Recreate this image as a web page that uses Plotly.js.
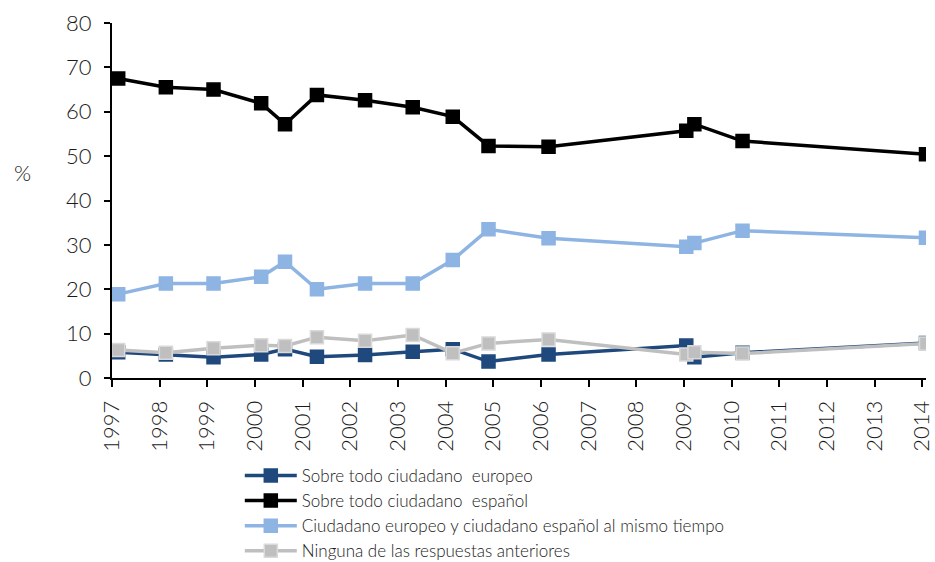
<!DOCTYPE html>
<html>
<head>
<meta charset="utf-8">
<script src="https://cdn.plot.ly/plotly-3.0.1.min.js"></script>
<style>html,body{margin:0;padding:0;background:#fff;}#chart{width:935px;height:562px;}</style>
</head>
<body>
<div id="chart"></div>
<script>
// Survey dates expressed as decimal years
const surveyDates = [1997.13, 1998.13, 1999.13, 2000.13, 2000.63, 2001.3, 2002.31, 2003.31, 2004.15, 2004.9, 2006.16, 2009.05, 2009.22, 2010.23, 2014.08];
const yearTicks = [1997, 1998, 1999, 2000, 2001, 2002, 2003, 2004, 2005, 2006, 2007, 2008, 2009, 2010, 2011, 2012, 2013, 2014];

const seriesNames = [
  "Sobre todo ciudadano  europeo",
  "Sobre todo ciudadano  español",
  "Ciudadano europeo y ciudadano español al mismo tiempo",
  "Ninguna de las respuestas anteriores"
];
const europeo  = [5.8, 5.3, 4.7, 5.3, 6.5, 4.8, 5.2, 5.9, 6.5, 3.7, 5.3, 7.3, 4.7, 5.7, 7.9];
const espanol  = [67.5, 65.5, 65.0, 61.9, 57.2, 63.8, 62.6, 61.0, 58.9, 52.3, 52.1, 55.7, 57.2, 53.4, 50.4];
const ambos    = [18.9, 21.3, 21.3, 22.8, 26.2, 20.0, 21.3, 21.3, 26.6, 33.5, 31.5, 29.6, 30.4, 33.2, 31.6];
const ninguna  = [6.3, 5.7, 6.7, 7.4, 7.2, 9.2, 8.4, 9.7, 5.6, 7.8, 8.7, 5.3, 5.8, 5.5, 7.8];

const lineColors = ["#1f497d", "#000000", "#8db4e2", "#bfbfbf"];
const borderColors = ["#1f497d", "#000000", "#8db4e2", "#d9d9d9"];
const allSeries = [europeo, espanol, ambos, ninguna];

const traces = allSeries.map((vals, i) => ({
  x: surveyDates,
  y: vals,
  name: seriesNames[i],
  type: "scatter",
  mode: "lines+markers",
  line: {color: lineColors[i], width: 3.5},
  marker: {symbol: "square", size: 13, color: lineColors[i], line: {color: borderColors[i], width: 1.5}}
}));

const layout = {
  width: 935, height: 562,
  margin: {l: 112, r: 9, t: 23, b: 184, autoexpand: false},
  paper_bgcolor: "#fff", plot_bgcolor: "#fff",
  font: {family: "Lato, 'Open Sans', sans-serif", color: "#1a1a1a", weight: 300},
  showlegend: true,
  legend: {
    x: 0.157, y: -0.225, xanchor: "left", yanchor: "top",
    font: {size: 17, color: "#1a1a1a", weight: 300},
    itemwidth: 52, tracegroupgap: 0,
    bgcolor: "rgba(0,0,0,0)"
  },
  xaxis: {
    range: [1997, 2014.08], automargin: false,
    tickmode: "array", tickvals: yearTicks, ticktext: yearTicks.map(String),
    tickangle: -90,
    ticks: "outside", ticklen: 7, tickwidth: 2, tickcolor: "#000",
    ticklabelstandoff: 5,
    showline: true, linecolor: "#000", linewidth: 2,
    showgrid: false, zeroline: false,
    tickfont: {size: 22, color: "#1a1a1a", weight: 300}
  },
  yaxis: {
    range: [0, 80], dtick: 10, automargin: false,
    ticks: "outside", ticklen: 6, tickwidth: 2, tickcolor: "#000",
    ticklabelstandoff: 8,
    showline: true, linecolor: "#000", linewidth: 2,
    showgrid: false, zeroline: false,
    tickfont: {size: 22, color: "#1a1a1a", weight: 300}
  },
  annotations: [{
    text: "%", xref: "paper", yref: "paper", x: -0.11, y: 0.58,
    xanchor: "center", yanchor: "middle", showarrow: false,
    font: {size: 22, color: "#1a1a1a", weight: 300}
  }]
};

Plotly.newPlot("chart", traces, layout, {displayModeBar: false, staticPlot: true});
</script>
</body>
</html>
